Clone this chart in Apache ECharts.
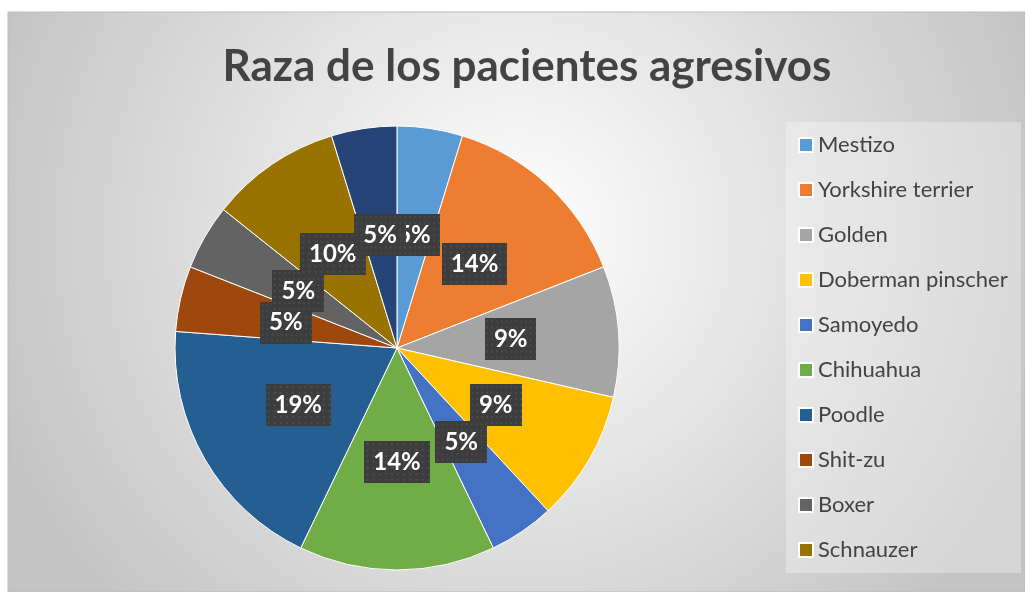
<!DOCTYPE html>
<html>
<head>
<meta charset="utf-8">
<script src="https://cdn.jsdelivr.net/npm/echarts@6/dist/echarts.min.js"></script>
<style>
  html, body { margin: 0; padding: 0; background: #fff; }
  #main { width: 1025px; height: 592px; }
</style>
</head>
<body>
<div id="main"></div>
<script>
  // razas y numero de pacientes
  var razas = ['Mestizo', 'Yorkshire terrier', 'Golden', 'Doberman pinscher', 'Samoyedo',
    'Chihuahua', 'Poodle', 'Shit-zu', 'Boxer', 'Schnauzer', 'Otros'];
  var pacientes = [1, 3, 2, 2, 1, 3, 4, 1, 1, 2, 1];
  // etiquetas tal como salen en la grafica
  var porcentajes = ['5%', '14%', '9%', '9%', '5%', '14%', '19%', '5%', '5%', '10%', '5%'];
  var leyenda = razas.slice(0, 10);
  var colores = ['#5b9bd5', '#ed7d31', '#a5a5a5', '#ffc000', '#4472c4', '#70ad47',
    '#255e91', '#9e480e', '#636363', '#997300', '#264478'];

  // fondo punteado de las etiquetas
  var fondo = document.createElement('canvas');
  fondo.width = 64; fondo.height = 42;
  var ctx = fondo.getContext('2d');
  ctx.fillStyle = '#3d3d3d';
  ctx.fillRect(0, 0, 64, 42);
  ctx.fillStyle = '#4c4c4c';
  for (var x = 2; x < 64; x += 6) {
    for (var y = 2; y < 42; y += 6) {
      ctx.fillRect(x, y, 2, 2);
    }
  }

  var myChart = echarts.init(document.getElementById('main'));
  var option = {
    color: colores,
    graphic: [
      {
        type: 'rect', z: -10, silent: true,
        shape: { x: 8, y: 12, width: 1017, height: 580 },
        style: {
          fill: {
            type: 'radial', x: 0.5, y: 0.38, r: 0.95,
            colorStops: [
              { offset: 0, color: '#ffffff' },
              { offset: 1, color: '#c4c4c4' }
            ]
          },
          stroke: '#bdbdbd', lineWidth: 1
        }
      },
      {
        type: 'rect', z: -9, silent: true,
        shape: { x: 786, y: 122, width: 235, height: 451 },
        style: { fill: 'rgba(255,255,255,0.3)' }
      }
    ],
    title: {
      text: 'Raza de los pacientes agresivos',
      left: 522, top: 40, textAlign: 'center',
      textStyle: { fontFamily: 'Lato', fontWeight: 'bold', fontSize: 44, color: '#434343' }
    },
    legend: {
      orient: 'vertical',
      left: 798, top: 134, padding: 0,
      data: leyenda,
      icon: 'rect', itemWidth: 14, itemHeight: 14, itemGap: 23,
      textStyle: { fontFamily: 'Lato', fontSize: 22, lineHeight: 22, color: '#434343' }
    },
    series: [{
      type: 'pie',
      center: [397, 348],
      radius: 222,
      startAngle: 90,
      clockwise: true,
      animation: false,
      itemStyle: { borderColor: '#ffffff', borderWidth: 1 },
      labelLayout: { hideOverlap: false },
      label: {
        position: 'inside',
        formatter: function (p) { return porcentajes[p.dataIndex]; },
        fontFamily: 'Lato', fontWeight: 'bold', fontSize: 24, lineHeight: 24,
        color: '#ffffff',
        backgroundColor: { image: fondo },
        padding: [9, 9],
        shadowColor: 'rgba(0,0,0,0.45)', shadowBlur: 6, shadowOffsetX: 3, shadowOffsetY: 4
      },
      emphasis: { disabled: true },
      data: razas.map(function (r, i) { return { name: r, value: pacientes[i] }; })
    }]
  };
  myChart.setOption(option);
</script>
</body>
</html>
